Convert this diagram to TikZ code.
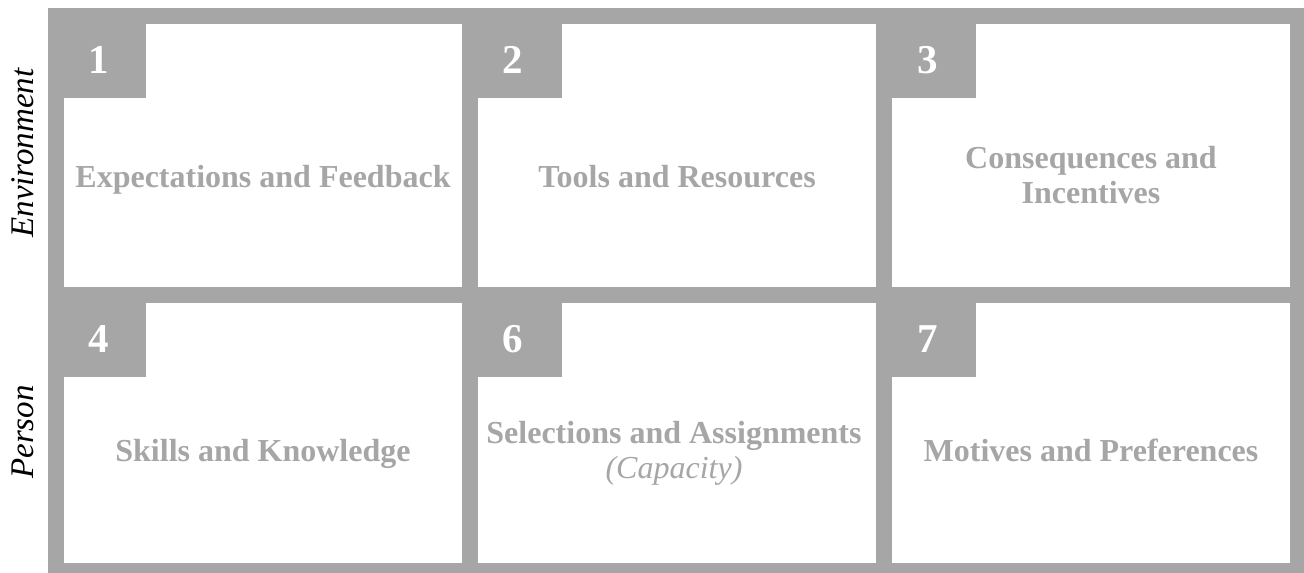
\documentclass[tikz,border=0pt]{standalone}
\usepackage{fontspec}
\setmainfont{Liberation Serif}
\definecolor{framegray}{HTML}{A6A6A6}
\begin{document}
\begin{tikzpicture}[x=1pt,y=-1pt,
  panel/.style={fill=white},
  tabbox/.style={fill=framegray},
  num/.style={anchor=base, text=white, inner sep=0,
    font=\fontsize{41}{44}\selectfont\bfseries},
  title/.style={anchor=base, text=framegray, inner sep=0, align=center,
    font=\fontsize{32}{35}\selectfont\bfseries},
  side/.style={anchor=base, rotate=90, inner sep=0,
    font=\fontsize{33}{36}\selectfont\itshape}]
\useasboundingbox (0,0) rectangle (1304,573);
% grey frame
\fill[framegray] (48,8) rectangle (1304,573);
% white panels
\fill[panel] (64,24) rectangle (462,287);
\fill[panel] (478,24) rectangle (876,287);
\fill[panel] (892,24) rectangle (1290,287);
\fill[panel] (64,303) rectangle (462,563);
\fill[panel] (478,303) rectangle (876,563);
\fill[panel] (892,303) rectangle (1290,563);
% number tabs
\fill[tabbox] (48,8) rectangle (146,98);
\fill[tabbox] (462,8) rectangle (562,98);
\fill[tabbox] (876,8) rectangle (976,98);
\fill[tabbox] (48,287) rectangle (146,377);
\fill[tabbox] (462,287) rectangle (562,377);
\fill[tabbox] (876,287) rectangle (976,377);
% tab numbers
\node[num] (n1) at (99,73) {1};
\node[num] (n2) at (513,73) {2};
\node[num] (n3) at (928,73) {3};
\node[num] (n4) at (99,352) {4};
\node[num] (n6) at (513,352) {6};
\node[num] (n7) at (928,352) {7};
% panel titles (base anchor sits on the last line)
\node[title] (t1) at (263,187) {Expectations and Feedback};
\node[title] (t2) at (677,187) {Tools and Resources};
\node[title] (t3) at (1091,203) {Consequences and\\Incentives};
\node[title] (t4) at (263,461) {Skills and Knowledge};
\node[title] (t6) at (674,478) {Selections and Assignments\\{\mdseries\itshape (Capacity)}};
\node[title] (t7) at (1091,461) {Motives and Preferences};
% row labels
\node[side] (env) at (33,153) {Environment};
\node[side] (per) at (33,432) {Person};
\end{tikzpicture}
\end{document}
